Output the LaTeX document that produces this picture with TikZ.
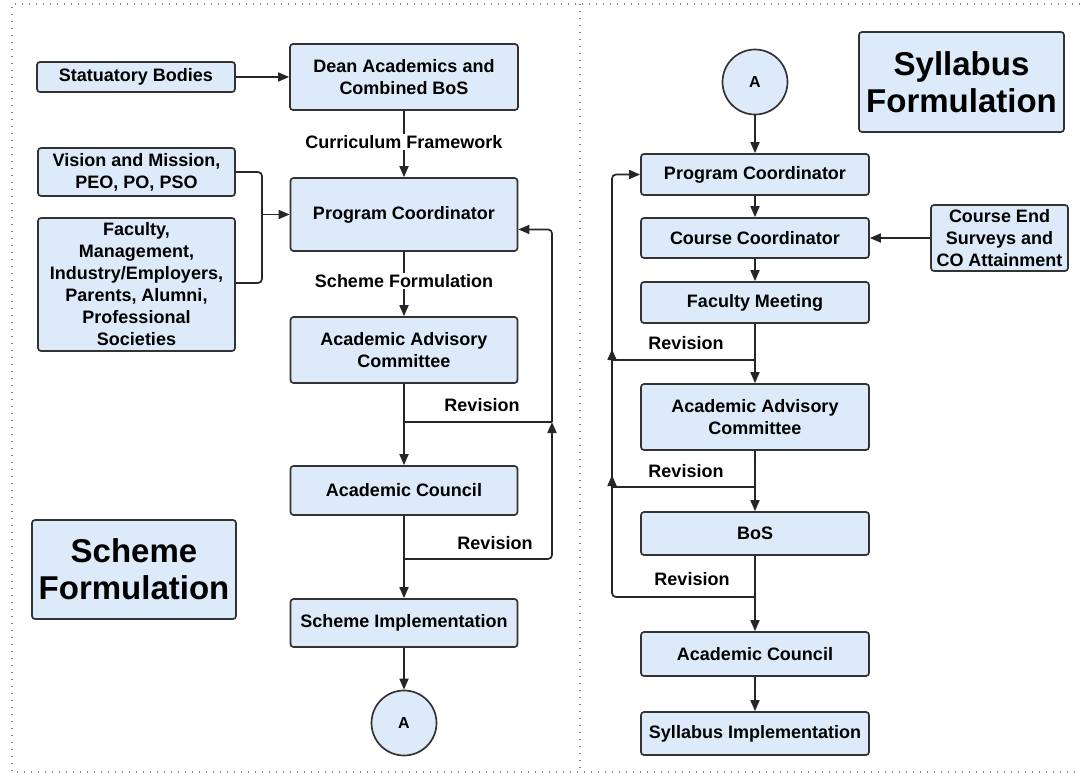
\documentclass[tikz,border=0pt]{standalone}
\usepackage{fontspec}
\setmainfont{Liberation Sans}
\usetikzlibrary{arrows.meta,calc}
\definecolor{boxblue}{HTML}{DDEAFA}
\definecolor{boxline}{HTML}{333333}
\definecolor{frame}{HTML}{8A8A8A}
\begin{document}
\begin{tikzpicture}[x=1pt,y=-1pt,
  box/.style={draw=boxline, fill=boxblue, line width=1.7pt, rounded corners=3pt,
    align=center, inner sep=0pt, font=\bfseries\fontsize{18}{22}\selectfont},
  wh/.style 2 args={minimum width=#1pt, minimum height=#2pt},
  title/.style={box, font=\bfseries\fontsize{33}{37}\selectfont},
  conn/.style={draw=boxline, line width=1.7pt, circle, fill=boxblue, minimum size=65pt,
    inner sep=0pt, font=\bfseries\fontsize{16}{18}\selectfont},
  lbl/.style={font=\bfseries\fontsize{18}{22}\selectfont, inner sep=1.5pt},
  ln/.style={draw=black!85, line width=1.7pt},
  arr/.style={ln, -{Triangle[length=11pt,width=9pt]}},
  dots/.style={draw=frame, line width=1.2pt, dash pattern=on 1.2pt off 5.8pt}
]
\useasboundingbox (0,0) rectangle (1080,774);
% frame
\draw[dots] (1080,4) -- (12,4) -- (12,772) -- (1080,772);
\draw[dots] (580,4) -- (580,772);

% ---------------- left panel ----------------
\node[box, wh={198}{30}] (stat) at (136,77) {Statuatory Bodies};
\node[box, wh={228}{66}] (dean) at (404,77) {Dean Academics and\\Combined BoS};
\node[box, wh={197}{48}] (vis) at (136.5,172) {Vision and Mission,\\PEO, PO, PSO};
\node[box, wh={227}{73}] (pc1) at (404,214.5) {Program Coordinator};
\node[box, wh={197}{133}] (fac) at (136.5,284.5) {Faculty,\\Management,\\Industry/Employers,\\Parents, Alumni,\\Professional\\Societies};
\node[box, wh={227}{66}] (aac1) at (404,350) {Academic Advisory\\Committee};
\node[box, wh={227}{49}] (ac1) at (404,490.5) {Academic Council};
\node[box, wh={227}{48}] (si1) at (404,623) {Scheme Implementation};
\node[conn] (A1) at (404,723) {A};
\node[title, wh={204}{99}] (sf) at (134,569.5) {Scheme\\Formulation};

\coordinate (j1) at (262,214.5);
\coordinate (r1) at (404,422);
\coordinate (r2) at (404,559);
\coordinate (m1) at (552,422);
\coordinate (pcin) at ($(pc1.east)!0.4!(pc1.south east)$);

\draw[arr] (stat) -- (dean);
\draw[arr] (dean) -- node[lbl, fill=white, pos=0.47] {Curriculum Framework} (pc1);
\draw[ln, rounded corners=4pt] (vis.east) -| (j1);
\draw[ln, rounded corners=4pt] (fac.east |- 0,283) -| (j1);
\draw[arr] (j1) -- (pc1.west);
\draw[arr] (pc1) -- node[lbl, fill=white, pos=0.45] {Scheme Formulation} (aac1);
\draw[arr] (aac1) -- (ac1);
\draw[arr] (ac1) -- (si1);
\draw[arr] (si1) -- (A1);
\draw[ln] (r1) -- (m1);
\draw[arr, rounded corners=4pt] (r2) -| (m1);
\draw[arr, rounded corners=4pt] (m1) |- (pcin);
\node[lbl] (rev1) at (482,405) {Revision};
\node[lbl] (rev2) at (495,543) {Revision};

% ---------------- right panel ----------------
\node[conn] (A2) at (755,82) {A};
\node[title, wh={205}{100}] (sf2) at (961.5,82) {Syllabus\\Formulation};
\node[box, wh={228}{41}] (pc2) at (755,174.5) {Program Coordinator};
\node[box, wh={228}{40}] (cc) at (755,238) {Course Coordinator};
\node[box, wh={137}{66}] (ce) at (999.5,238) {Course End\\Surveys and\\CO Attainment};
\node[box, wh={228}{41}] (fm) at (755,302.5) {Faculty Meeting};
\node[box, wh={228}{66}] (aac2) at (755,417) {Academic Advisory\\Committee};
\node[box, wh={228}{43}] (bos) at (755,533.5) {BoS};
\node[box, wh={228}{44}] (ac2) at (755,654) {Academic Council};
\node[box, wh={228}{43}] (si2) at (755,733.5) {Syllabus Implementation};

\coordinate (b1) at (755,360);
\coordinate (b2) at (755,487);
\coordinate (b3) at (755,597);
\coordinate (k1) at (612,360);
\coordinate (k2) at (612,487);
\coordinate (t1) at (612,349);
\coordinate (t2) at (612,475);

\draw[arr] (A2) -- (pc2);
\draw[arr] (pc2) -- (cc);
\draw[arr] (ce) -- (cc);
\draw[arr] (cc) -- (fm);
\draw[arr] (fm) -- (aac2);
\draw[arr] (aac2) -- (bos);
\draw[arr] (bos) -- (ac2);
\draw[arr] (ac2) -- (si2);
\draw[ln] (b1) -- (k1);
\draw[ln] (b2) -- (k2);
\draw[arr, rounded corners=4pt] (b3) -| (t2);
\draw[arr] (k2) -- (t1);
\draw[arr, rounded corners=4pt] (k1) |- (pc2.west);
\node[lbl] (rev3) at (686,343) {Revision};
\node[lbl] (rev4) at (686,471) {Revision};
\node[lbl] (rev5) at (692,579) {Revision};
\end{tikzpicture}
\end{document}
